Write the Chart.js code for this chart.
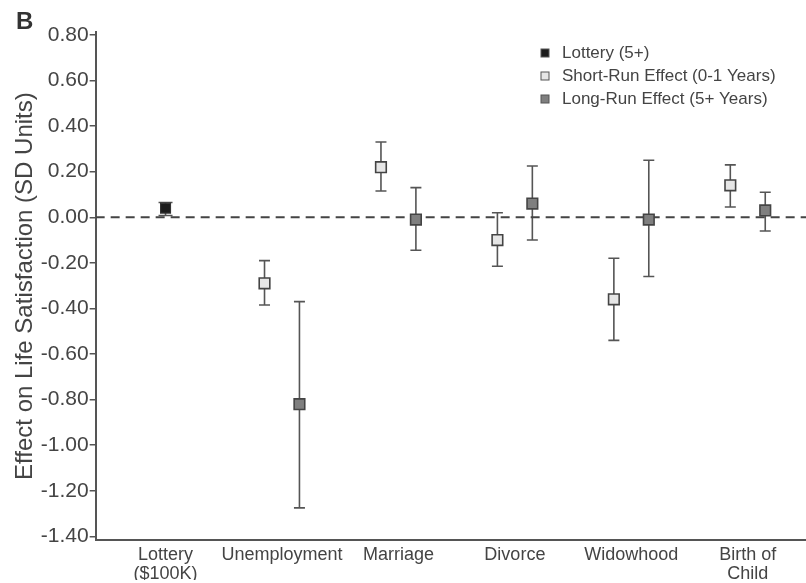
<!DOCTYPE html>
<html>
<head>
<meta charset="utf-8">
<script src="https://cdn.jsdelivr.net/npm/chart.js@4.4.0/dist/chart.umd.min.js"></script>
<style>
  html, body { margin: 0; padding: 0; background: #fff; }
  #wrap { width: 806px; height: 583px; position: relative; }
</style>
</head>
<body>
<div id="wrap"><canvas id="myChart"></canvas></div>
<script>
// categories on the x axis
var categories = ['Lottery\n($100K)', 'Unemployment', 'Marriage', 'Divorce', 'Widowhood', 'Birth of\nChild'];
var yTicks = [-1.4, -1.2, -1.0, -0.8, -0.6, -0.4, -0.2, 0, 0.2, 0.4, 0.6, 0.8];

// lottery (5+), only first category
var lotteryVal = [0.04];
var lotteryLo = [0.008];
var lotteryHi = [0.065];

// life events: Unemployment, Marriage, Divorce, Widowhood, Birth of Child
var shortVal = [-0.29, 0.22, -0.10, -0.36, 0.14];
var shortLo = [-0.385, 0.115, -0.215, -0.54, 0.045];
var shortHi = [-0.19, 0.33, 0.02, -0.18, 0.23];

var longVal = [-0.82, -0.01, 0.06, -0.01, 0.03];
var longLo = [-1.275, -0.145, -0.10, -0.26, -0.06];
var longHi = [-0.37, 0.13, 0.225, 0.25, 0.11];

var axisColor = '#555'
var textColor = '#444'

function make_points(vals, lo, hi, start, shift){
    return vals.map(function(v, i){
        return {x: start + i + shift, y: v, lo: lo[i], hi: hi[i]}
    })
}

const errorBars = {
    id: 'errorBars',
    beforeDatasetsDraw(chart){
        const ctx = chart.ctx
        const xs = chart.scales.x, ys = chart.scales.y
        chart.data.datasets.forEach(function(ds){
            if (!ds.capWidth) return
            ctx.save()
            ctx.strokeStyle = axisColor
            ctx.lineWidth = 1.6
            ds.data.forEach(function(p){
                const x = xs.getPixelForValue(p.x)
                const y1 = ys.getPixelForValue(p.lo)
                const y2 = ys.getPixelForValue(p.hi)
                const h = ds.capWidth / 2
                ctx.beginPath()
                ctx.moveTo(x, y1); ctx.lineTo(x, y2)
                ctx.moveTo(x - h, y1); ctx.lineTo(x + h, y1)
                ctx.moveTo(x - h, y2); ctx.lineTo(x + h, y2)
                ctx.stroke()
            })
            ctx.restore()
        })
    }
}

const extras = {
    id: 'extras',
    afterDraw(chart){
        const ctx = chart.ctx
        ctx.save()
        // panel letter
        ctx.fillStyle = '#333'
        ctx.font = 'bold 24px "Liberation Sans", Arial, sans-serif'
        ctx.textBaseline = 'middle'
        ctx.fillText('B', 16, 22)
        // legend
        ctx.font = '17px "Liberation Sans", Arial, sans-serif'
        let y = 53
        chart.data.datasets.forEach(function(ds){
            if (!ds.capWidth) return
            ctx.fillStyle = ds.backgroundColor
            ctx.strokeStyle = '#555'
            ctx.lineWidth = 1
            ctx.fillRect(541, y - 4, 8, 8)
            ctx.strokeRect(541, y - 4, 8, 8)
            ctx.fillStyle = textColor
            ctx.fillText(ds.label, 562, y)
            y += 23
        })
        ctx.restore()
    }
}

const config = {
    type: 'scatter',
    data: {
        datasets: [{
            label: 'Lottery (5+)',
            data: make_points(lotteryVal, lotteryLo, lotteryHi, 1, 0),
            backgroundColor: '#1c1c1c',
            borderColor: '#333',
            borderWidth: 1.2,
            pointStyle: 'rect',
            pointRadius: 7,
            capWidth: 14,
            order: 0
        }, {
            label: 'Short-Run Effect (0-1 Years)',
            data: make_points(shortVal, shortLo, shortHi, 2, -0.15),
            backgroundColor: '#e6e6e6',
            borderColor: '#444',
            borderWidth: 1.6,
            pointStyle: 'rect',
            pointRadius: 7.5,
            capWidth: 11,
            order: 0
        }, {
            label: 'Long-Run Effect (5+ Years)',
            data: make_points(longVal, longLo, longHi, 2, 0.15),
            backgroundColor: '#7f7f7f',
            borderColor: '#444',
            borderWidth: 1.6,
            pointStyle: 'rect',
            pointRadius: 7.5,
            capWidth: 11,
            order: 0
        }, {
            // zero reference line
            type: 'line',
            label: 'zero',
            data: [{x: 0.4, y: 0}, {x: 6.5, y: 0}],
            borderColor: '#444',
            borderWidth: 2,
            borderDash: [9, 6],
            pointRadius: 0,
            order: 10
        }]
    },
    options: {
        responsive: true,
        maintainAspectRatio: false,
        animation: false,
        layout: {
            autoPadding: false,
            padding: {left: 3, right: 0, top: 32, bottom: 3}
        },
        plugins: {
            legend: { display: false },
            tooltip: { enabled: false }
        },
        scales: {
            x: {
                type: 'linear',
                min: 0.4,
                max: 6.5,
                afterBuildTicks: function(axis){
                    axis.ticks = categories.map(function(c, i){ return {value: i + 1} })
                },
                grid: { display: false },
                border: { display: true, color: axisColor, width: 2 },
                ticks: {
                    autoSkip: false,
                    maxRotation: 0,
                    padding: -3,
                    color: textColor,
                    font: { size: 18, family: '"Liberation Sans", Arial, sans-serif', lineHeight: 1.05 },
                    callback: function(v){
                        const c = categories[Math.round(v) - 1]
                        return c ? c.split('\n') : ''
                    }
                }
            },
            y: {
                min: -1.417,
                max: 0.813,
                afterBuildTicks: function(axis){
                    axis.ticks = yTicks.map(function(v){ return {value: v} })
                },
                grid: {
                    display: true,
                    drawOnChartArea: false,
                    drawTicks: true,
                    tickLength: 6,
                    color: axisColor,
                    lineWidth: 1.5
                },
                border: { display: true, color: axisColor, width: 2 },
                title: {
                    display: true,
                    text: 'Effect on Life Satisfaction (SD Units)',
                    color: textColor,
                    font: { size: 24, family: '"Liberation Sans", Arial, sans-serif' },
                    padding: { top: 8, bottom: 0 }
                },
                ticks: {
                    padding: 1,
                    color: textColor,
                    font: { size: 21, family: '"Liberation Sans", Arial, sans-serif' },
                    callback: function(v){ return v.toFixed(2) }
                }
            }
        }
    },
    plugins: [errorBars, extras]
};

var myChart = new Chart(document.getElementById('myChart'), config);
</script>
</body>
</html>
